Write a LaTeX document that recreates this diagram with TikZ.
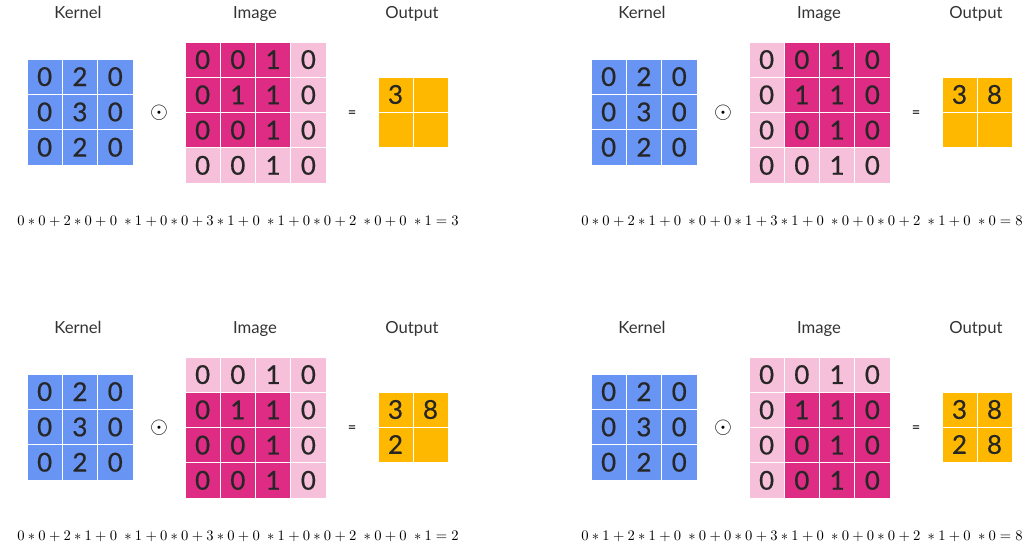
\documentclass[tikz,border=0pt]{standalone}
\usepackage{fontspec}
\newfontfamily\lato{Lato}
\newfontfamily\latonum[FakeBold=0.5]{Lato}
\usetikzlibrary{calc}

\definecolor{kernelblue}{RGB}{104,148,244}
\definecolor{imgdark}{RGB}{222,44,132}
\definecolor{imglight}{RGB}{246,192,218}
\definecolor{outorange}{RGB}{255,184,0}

\begin{document}
\begin{tikzpicture}[x=0.75pt, y=-0.75pt,
  cell/.style={draw=white, line width=0.6pt, minimum size=26.5pt, inner sep=0pt, font=\latonum\fontsize{19.5}{20}\selectfont, text=black!85},
  kcell/.style={cell, fill=kernelblue},
  dcell/.style={cell, fill=imgdark},
  lcell/.style={cell, fill=imglight},
  ocell/.style={cell, fill=outorange, minimum size=26.25pt},
  title/.style={anchor=base, font=\lato\fontsize{12.5}{14}\selectfont, text=black!80},
  op/.style={font=\fontsize{16}{16}\selectfont},
  sum/.style={anchor=base, font=\fontsize{10.9}{13}\selectfont}]
\useasboundingbox (0,0) rectangle (1035,550);

% one panel per window position
\foreach \px/\py/\wr/\wc/\nout/\res [count=\p] in {
  0/0/0/0/1/{$0*0+2*0+0\;*1+0*0+3*1+0\;*1+0*0+2\;*0+0\;*1=3$},
  564/0/0/1/2/{$0*0+2*1+0\;*0+0*1+3*1+0\;*0+0*0+2\;*1+0\;*0=8$},
  0/315/1/0/3/{$0*0+2*1+0\;*1+0*0+3*0+0\;*1+0*0+2\;*0+0\;*1=2$},
  564/315/1/1/4/{$0*1+2*1+0\;*0+0*0+3*1+0\;*0+0*0+2\;*1+0\;*0=8$}}{
\begin{scope}[shift={(\px,\py)}, name prefix=p\p-]
  % kernel
  \foreach \r/\row in {0/{0,2,0},1/{0,3,0},2/{0,2,0}}
    \foreach \v [count=\c from 0] in \row
      \node[kcell] (k-\r-\c) at ({44.65+35.3*\c},{76.65+35.3*\r}) {\v};
  % image, window in dark
  \foreach \r/\row in {0/{0,0,1,0},1/{0,1,1,0},2/{0,0,1,0},3/{0,0,1,0}}
    \foreach \v [count=\c from 0] in \row {
      \pgfmathtruncatemacro\hi{and(and(\r>=\wr,\r<=\wr+2),and(\c>=\wc,\c<=\wc+2))}
      \ifnum\hi=1 \def\sty{dcell}\else\def\sty{lcell}\fi
      \node[\sty] (i-\r-\c) at ({202.6+35.25*\c},{59.6+35.25*\r}) {\v};
    }
  % output
  \foreach \v/\r/\c [count=\n] in {3/0/0,8/0/1,2/1/0,8/1/1} {
    \ifnum\n>\nout \def\t{}\else \let\t\v\fi
    \node[ocell] (o-\r-\c) at ({395.5+35*\c},{94.5+35*\r}) {\t};
  }
  \node[title] (kt) at (78,18.3) {Kernel};
  \node[title] (it) at (255,18.3) {Image};
  \node[title] (ot) at (412,18.3) {Output};
  \node[op] (dot) at (159,113) {$\odot$};
  \node[font=\lato\fontsize{11}{11}\selectfont] (eq) at (352,114) {=};
  \node[sum] (sum) at (238,225) {\res};
\end{scope}
}
\end{tikzpicture}
\end{document}
